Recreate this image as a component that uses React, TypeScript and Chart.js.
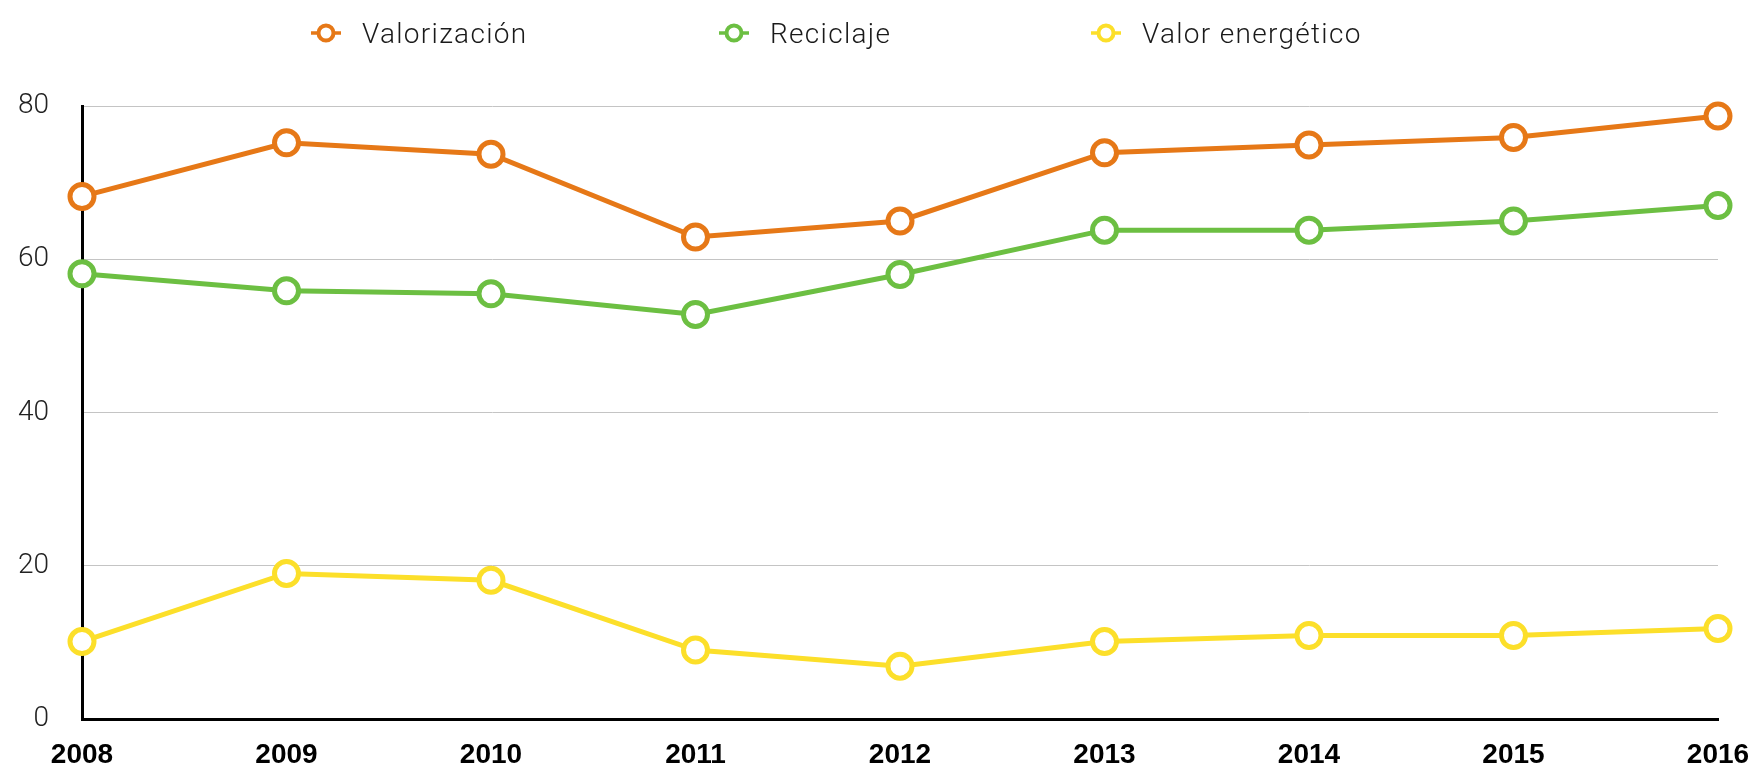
import React, { useEffect, useRef } from "react";
import { Chart, registerables } from "chart.js";

Chart.register(...registerables);

const years = ["2008", "2009", "2010", "2011", "2012", "2013", "2014", "2015", "2016"];
const valorizacion = [68.2, 75.2, 73.7, 62.9, 65.0, 73.9, 74.9, 75.9, 78.7];
const reciclaje = [58.1, 55.9, 55.5, 52.8, 58.0, 63.8, 63.8, 65.0, 67.0];
const valorEnergetico = [10.1, 19.0, 18.1, 9.0, 6.9, 10.1, 10.9, 10.9, 11.8];
const yTicks = [0, 20, 40, 60, 80];
const seriesNames = ["Valorización", "Reciclaje", "Valor energético"];
const seriesColors = ["#E67817", "#6CBF42", "#FCDF2A"];
const legendMarkerX = [326, 734, 1106];

const W = 1752;
const H = 770;

export default function App() {
  const canvasRef = useRef<HTMLCanvasElement | null>(null);

  useEffect(() => {
    document.body.style.margin = "0";
    const canvas = canvasRef.current;
    if (!canvas) return;
    const seriesData = [valorizacion, reciclaje, valorEnergetico];
    const chart = new Chart(canvas, {
      type: "line",
      data: {
        labels: years,
        datasets: seriesData.map((d, i) => ({
          label: seriesNames[i],
          data: d,
          borderColor: seriesColors[i],
          backgroundColor: "#ffffff",
          pointBackgroundColor: "#ffffff",
          pointBorderColor: seriesColors[i],
          pointBorderWidth: 5,
          pointRadius: 12,
          borderWidth: 5,
          tension: 0,
          fill: false,
          clip: false as any,
        })),
      },
      options: {
        responsive: false,
        animation: false,
        layout: { padding: { top: 106, left: 0, right: 0, bottom: 0 } },
        plugins: {
          legend: { display: false },
          tooltip: { enabled: false },
        },
        scales: {
          x: {
            type: "category",
            offset: false,
            afterFit: (scale: any) => {
              scale.height = 51;
              scale.paddingLeft = 0;
              scale.paddingRight = 34;
            },
            grid: { display: false, drawTicks: false },
            border: { display: true, color: "#000000", width: 3 },
            ticks: {
              color: "#000000",
              padding: 19,
              maxRotation: 0,
              autoSkip: false,
              font: { family: "'Liberation Sans', Arial, sans-serif", size: 28, weight: "bold" },
            },
          },
          y: {
            min: 0,
            max: 80,
            afterBuildTicks: (axis: any) => {
              axis.ticks = yTicks.map((v) => ({ value: v }));
            },
            afterFit: (scale: any) => {
              scale.width = 82;
            },
            grid: {
              color: "#c4c4c4",
              lineWidth: 1,
              drawTicks: false,
            },
            border: { display: true, color: "#000000", width: 3 },
            ticks: {
              color: "#222222",
              padding: 33,
              font: { family: "Roboto, 'Liberation Sans', sans-serif", size: 28, weight: "300" as any },
            },
          },
        },
      },
    });
    return () => chart.destroy();
  }, []);

  return (
    <div style={{ position: "relative", width: W, height: H, background: "#ffffff" }}>
      <canvas ref={canvasRef} width={W} height={H} style={{ display: "block", width: W, height: H }} />
      {seriesNames.map((name, i) => (
        <div
          key={name}
          style={{
            position: "absolute",
            left: legendMarkerX[i] - 15,
            top: 15,
            height: 36,
            display: "flex",
            alignItems: "center",
            fontFamily: "Roboto, 'Liberation Sans', sans-serif",
            fontWeight: 300,
            fontSize: 28,
            letterSpacing: "1.3px",
            color: "#1a1a1a",
            whiteSpace: "nowrap",
          }}
        >
          <svg width={30} height={22} style={{ display: "block" }}>
            <line x1={0} y1={11} x2={30} y2={11} stroke={seriesColors[i]} strokeWidth={3.5} />
            <circle cx={15} cy={11} r={7.5} fill="#ffffff" stroke={seriesColors[i]} strokeWidth={4} />
          </svg>
          <span style={{ marginLeft: 21 }}>{name}</span>
        </div>
      ))}
    </div>
  );
}
